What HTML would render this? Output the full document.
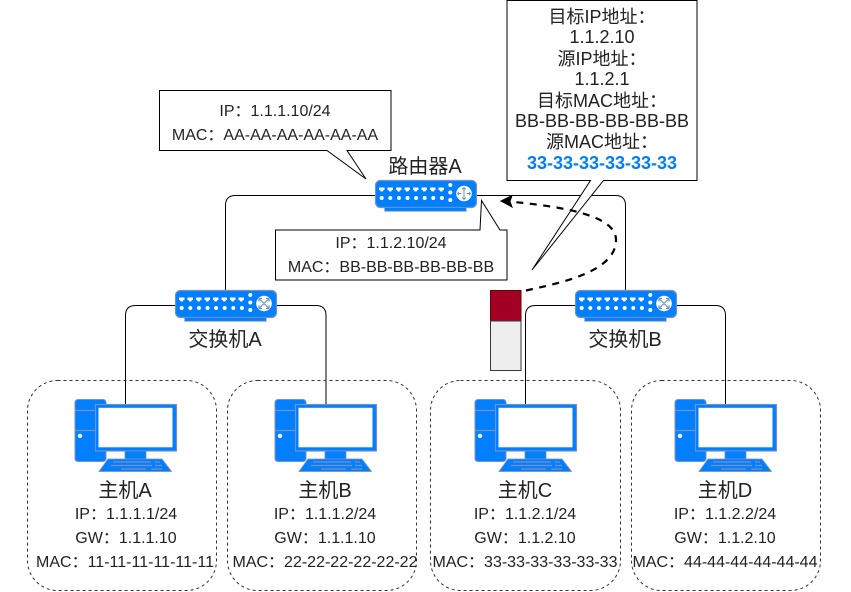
<!DOCTYPE html>
<html>
<head>
<meta charset="utf-8">
<style>
html,body{margin:0;padding:0;background:#fff;width:851px;height:592px;overflow:hidden}
svg{display:block}
text{font-family:"Liberation Sans","Noto Sans CJK SC",sans-serif;fill:#222;text-anchor:middle}
.s{font-size:16px}
.m{font-size:18px}
.l{font-size:20px}
</style>
</head>
<body>
<svg width="851" height="592" viewBox="0 0 851 592" xmlns="http://www.w3.org/2000/svg">
<defs>
<g id="ports">
<rect x="0.5" y="0.5" width="101" height="27" rx="5" fill="#007fff" stroke="#7b8fc0" stroke-width="1.2"/>
<rect x="9.7" y="27.5" width="81.5" height="3.7" fill="#007fff" stroke="#7b8fc0" stroke-width="0.8"/>
<g fill="#fff">
<path d="M4 7.5h5.5v2.5h-1l-.8 1.5h-2l-.7-1.5H4zM12.5 7.5H18v2.5h-1l-.8 1.5h-2l-.7-1.5h-1zM21 7.5h5.5v2.5h-1l-.8 1.5h-2l-.7-1.5H21zM29.500 7.500H35v2.500h-1l-.8 1.500h-2l-.7-1.500h-1zM38 7.500h5.500v2.500h-1l-.8 1.500h-2l-.7-1.500H38zM46.500 7.500H52v2.500h-1l-.8 1.500h-2l-.7-1.500h-1zM55 7.500h5.500v2.500h-1l-.8 1.500h-2l-.7-1.500H55zM63.500 7.500H69v2.500h-1l-.8 1.500h-2l-.7-1.500h-1z"/>
<circle cx="6.700" cy="18" r="2"/><circle cx="15.300" cy="18" r="2"/><circle cx="23.900" cy="18" r="2"/><circle cx="32.500" cy="18" r="2"/><circle cx="41.100" cy="18" r="2"/><circle cx="49.700" cy="18" r="2"/><circle cx="58.300" cy="18" r="2"/><circle cx="66.900" cy="18" r="2"/>
<circle cx="75.300" cy="5" r="2"/><circle cx="75.300" cy="12.500" r="2"/><circle cx="75.300" cy="20" r="2"/>
<circle cx="89" cy="13.500" r="7.800"/>
</g>
</g>
<g id="router">
<use href="#ports"/>
<path d="M89 7.500v12M89 7.500l-1.800 2M89 7.500l1.800 2M89 19.500l-1.800-2M89 19.500l1.800-2M82.500 13.500h4M82.500 13.500l1.500-1.500M82.500 13.500l1.500 1.500M95.500 13.500h-4M95.500 13.500l-1.500-1.500M95.500 13.500l-1.500 1.500" fill="none" stroke="#6d8fc8" stroke-width="1"/>
</g>
<g id="switch">
<use href="#ports"/>
<path d="M84 8.500l10 10M94 8.500l-10 10M84 8.500h3M84 8.500v3M94 8.500h-3M94 8.500v3M84 18.500h3M84 18.500v-3M94 18.500h-3M94 18.500v-3" fill="none" stroke="#6d8fc8" stroke-width="1.200"/>
</g>
<g id="pc">
<rect x="1" y="0.500" width="31" height="62" rx="3" fill="#007fff" stroke="#7b8fc0" stroke-width="1"/>
<path d="M1 11.500h24M1 31.500h24" stroke="#7b8fc0" stroke-width="1.200"/>
<circle cx="6" cy="36.800" r="2.200" fill="#fff"/>
<rect x="21.500" y="5.500" width="81" height="46.500" fill="#007fff" stroke="#7b8fc0" stroke-width="1.200"/>
<rect x="24.500" y="8.800" width="74" height="39.500" fill="#fff"/>
<rect x="51" y="52" width="21" height="8" fill="#007fff" stroke="#7b8fc0" stroke-width="0.800"/>
<path d="M34 60h54l9.500 12.500H25z" fill="#007fff" stroke="#7b8fc0" stroke-width="0.800"/>
<path d="M39 63h38M81 63h5M37 66.500h41M81 66.500h7M47 70h25M77 70h11" stroke="#7b8fc0" stroke-width="1.200"/>
</g>
</defs>

<g fill="none" stroke="#000" stroke-width="1">
<path d="M225.500 290V205.500Q225.500 195.500 235.500 195.500H375"/>
<path d="M476 195.500H615.500Q625.500 195.500 625.500 205.500V290"/>
<path d="M175 305.500H135.500Q125.500 305.500 125.500 315.500V405"/>
<path d="M276 305.500H316Q326 305.500 326 315.500V405"/>
<path d="M575 305.500H535.500Q525.500 305.500 525.500 315.500V405"/>
<path d="M676 305.500H715.500Q725.500 305.500 725.500 315.500V405"/>
</g>

<g fill="none" stroke="#333" stroke-width="1" stroke-dasharray="3 3">
<rect x="27.500" y="380.500" width="189" height="210" rx="30"/>
<rect x="227.500" y="380.500" width="189" height="210" rx="30"/>
<rect x="430.500" y="380.500" width="190" height="210" rx="30"/>
<rect x="631.500" y="380.500" width="189" height="210" rx="30"/>
</g>

<use href="#router" x="375" y="180"/>
<use href="#switch" x="175" y="290"/>
<use href="#switch" x="575" y="290"/>
<use href="#pc" x="74" y="399"/>
<use href="#pc" x="274" y="399"/>
<use href="#pc" x="474" y="399"/>
<use href="#pc" x="674" y="399"/>

<path d="M159.500 90.500H391V150.500H347L366 179L327 150.500H159.500Z" fill="#fff" stroke="#000" stroke-width="1"/>
<path d="M275.500 230H480L481.500 200.500L500 230H507V280H275.500Z" fill="#fff" stroke="#000" stroke-width="1"/>
<path d="M507 0.500H697V180.500H603.500L532 270L590.500 180.500H507Z" fill="#fff" stroke="#000" stroke-width="1"/>

<rect x="490.500" y="290.500" width="30.500" height="30.500" fill="#a20025" stroke="#6f0000" stroke-width="1"/>
<rect x="490.500" y="321" width="30.500" height="49.500" fill="#eeeeee" stroke="#36393d" stroke-width="1"/>

<path d="M526 290.500C560 283 616 272 616 240C616 218 575 208 514 202" fill="none" stroke="#000" stroke-width="2.200" stroke-dasharray="7 6.500"/>
<path d="M501 201L512 195.500L510 201.500L512 207Z" fill="#000" stroke="#000"/>

<text class="s" x="275" y="116">IP：1.1.1.10/24</text>
<text class="s" x="275" y="140">MAC：AA-AA-AA-AA-AA-AA</text>
<text class="s" x="391" y="248">IP：1.1.2.10/24</text>
<text class="s" x="391" y="272">MAC：BB-BB-BB-BB-BB-BB</text>

<text class="m" x="602" y="23">目标IP地址：</text>
<text class="m" x="602" y="43">1.1.2.10</text>
<text class="m" x="602" y="65">源IP地址：</text>
<text class="m" x="602" y="85">1.1.2.1</text>
<text class="m" x="602" y="107">目标MAC地址：</text>
<text class="m" x="602" y="127" textLength="174" lengthAdjust="spacingAndGlyphs">BB-BB-BB-BB-BB-BB</text>
<text class="m" x="602" y="148">源MAC地址：</text>
<text class="m" x="602" y="169" style="fill:#007fff;font-weight:bold">33-33-33-33-33-33</text>

<text class="l" x="425" y="173">路由器A</text>
<text class="l" x="225" y="346">交换机A</text>
<text class="l" x="625" y="346">交换机B</text>

<text class="l" x="125" y="497">主机A</text>
<text class="s" x="126" y="519">IP：1.1.1.1/24</text>
<text class="s" x="126" y="543">GW：1.1.1.10</text>
<text class="s" x="125" y="567" textLength="178" lengthAdjust="spacing">MAC：11-11-11-11-11-11</text>

<text class="l" x="325" y="497">主机B</text>
<text class="s" x="325" y="519">IP：1.1.1.2/24</text>
<text class="s" x="325" y="543">GW：1.1.1.10</text>
<text class="s" x="325" y="567">MAC：22-22-22-22-22-22</text>

<text class="l" x="525" y="497">主机C</text>
<text class="s" x="525" y="519">IP：1.1.2.1/24</text>
<text class="s" x="525" y="543">GW：1.1.2.10</text>
<text class="s" x="525" y="567">MAC：33-33-33-33-33-33</text>

<text class="l" x="725" y="497">主机D</text>
<text class="s" x="725" y="519">IP：1.1.2.2/24</text>
<text class="s" x="725" y="543">GW：1.1.2.10</text>
<text class="s" x="725" y="567">MAC：44-44-44-44-44-44</text>
</svg>
</body>
</html>
